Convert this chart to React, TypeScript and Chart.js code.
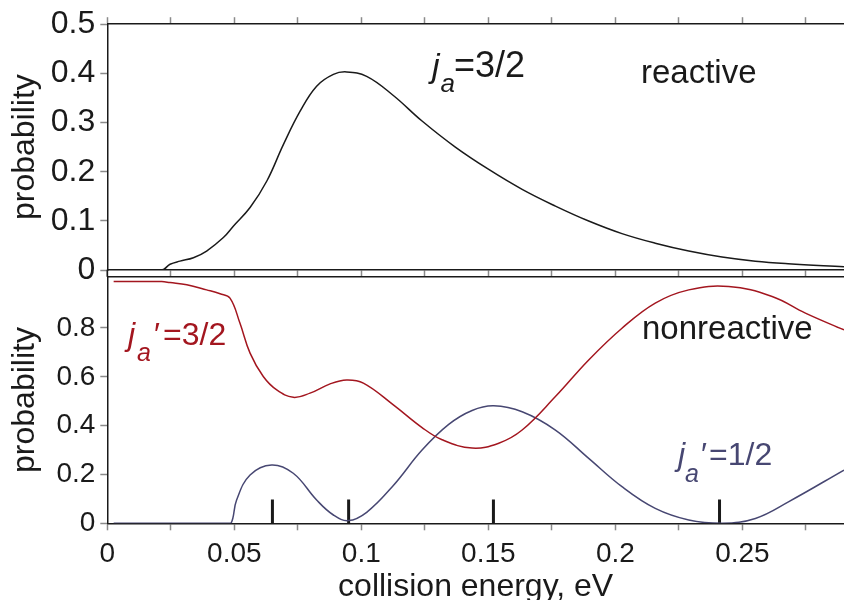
import { useEffect, useRef } from "react";
import { Chart, registerables } from "chart.js";

Chart.register(...registerables);

const FONT = '"Liberation Sans", Arial, Helvetica, sans-serif';
const RED = "#a3161f";
const BLUE = "#474772";
const INK = "#1a1a1a";
const TICK = "#8a8a8a";

// ---- data (collision energy in eV) ----
const reactiveX = [0.0025, 0.0214, 0.0247, 0.0286, 0.0339, 0.0391, 0.0457, 0.0496, 0.0562, 0.0628, 0.0693, 0.0759, 0.0824, 0.089, 0.0942, 0.1021, 0.1126, 0.1239, 0.137, 0.15, 0.1633, 0.1764, 0.1895, 0.2026, 0.2157, 0.2289, 0.242, 0.2551, 0.268, 0.29];
const reactiveY = [0, 0, 0.0116, 0.018, 0.025, 0.0386, 0.066, 0.089, 0.127, 0.181, 0.255, 0.323, 0.374, 0.398, 0.403, 0.394, 0.355, 0.303, 0.25, 0.205, 0.164, 0.13, 0.0996, 0.074, 0.0545, 0.0386, 0.0264, 0.018, 0.0129, 0.0067];

const nonreactive32X = [0.0025, 0.0214, 0.0247, 0.0313, 0.0391, 0.0444, 0.0483, 0.0522, 0.0562, 0.0614, 0.0667, 0.0732, 0.0798, 0.0877, 0.0942, 0.1008, 0.1126, 0.1239, 0.1318, 0.1436, 0.1541, 0.1633, 0.1764, 0.1895, 0.2026, 0.2157, 0.2289, 0.2446, 0.2617, 0.2748, 0.29];
const nonreactive32Y = [0.99, 0.99, 0.986, 0.977, 0.956, 0.94, 0.922, 0.82, 0.697, 0.601, 0.546, 0.516, 0.533, 0.571, 0.587, 0.574, 0.485, 0.392, 0.342, 0.308, 0.328, 0.382, 0.519, 0.669, 0.799, 0.902, 0.956, 0.97, 0.929, 0.861, 0.792];

const nonreactive12X = [0.0025, 0.046, 0.0487, 0.0509, 0.0562, 0.0647, 0.0732, 0.0824, 0.089, 0.0949, 0.1021, 0.1126, 0.1239, 0.1344, 0.1436, 0.1521, 0.1633, 0.1764, 0.1895, 0.2026, 0.2157, 0.2289, 0.242, 0.2551, 0.2683, 0.29];
const nonreactive12Y = [0, 0, 0, 0.0955, 0.198, 0.239, 0.205, 0.0955, 0.034, 0.011, 0.045, 0.155, 0.3, 0.405, 0.462, 0.481, 0.457, 0.382, 0.266, 0.15, 0.061, 0.0135, 0, 0.02, 0.089, 0.218];

const markerX = [0.065, 0.095, 0.152, 0.241];
const markerTop = 0.097;

const xTickValues = [0, 0.025, 0.05, 0.075, 0.1, 0.125, 0.15, 0.175, 0.2, 0.225, 0.25, 0.275];
const xTickLabels = ["0", "", "0.05", "", "0.1", "", "0.15", "", "0.2", "", "0.25", ""];
const topYTicks = [0, 0.1, 0.2, 0.3, 0.4, 0.5];
const topYLabels = ["0", "0.1", "0.2", "0.3", "0.4", "0.5"];
const bottomYTicks = [0, 0.2, 0.4, 0.6, 0.8];
const bottomYLabels = ["0", "0.2", "0.4", "0.6", "0.8"];

const X_MIN = 0;
const X_MAX = 0.29;

const pts = (xs: number[], ys: number[]) => xs.map((x, i) => ({ x, y: ys[i] }));

type Part = { t: string; italic?: boolean; size: number; dy?: number; dx?: number };
type Label = { x: number; y: number; color: string; parts: Part[] };

function drawParts(ctx: CanvasRenderingContext2D, lab: Label) {
  ctx.save();
  ctx.fillStyle = lab.color;
  ctx.textBaseline = "alphabetic";
  ctx.textAlign = "left";
  let cx = lab.x;
  for (const p of lab.parts) {
    ctx.font = `${p.italic ? "italic " : ""}${p.size}px ${FONT}`;
    cx += p.dx ?? 0;
    ctx.fillText(p.t, cx, lab.y + (p.dy ?? 0));
    cx += ctx.measureText(p.t).width;
  }
  ctx.restore();
}

const labelsPlugin = (labels: Label[]) => ({
  id: "richLabels",
  afterDatasetsDraw(chart: any) {
    for (const l of labels) drawParts(chart.ctx, l);
  },
});

function xAxis(position: "top" | "bottom", opts: { labels: boolean; ticks: boolean; height: number; title?: boolean }) {
  return {
    type: "linear" as const,
    axis: "x" as const,
    position,
    min: X_MIN,
    max: X_MAX,
    afterBuildTicks: (s: any) => {
      s.ticks = xTickValues.map((v) => ({ value: v }));
    },
    ticks: {
      display: opts.labels,
      autoSkip: false,
      maxRotation: 0,
      padding: 7,
      color: INK,
      font: { family: FONT, size: 28 },
      callback: (_v: any, i: number) => xTickLabels[i],
    },
    grid: { drawOnChartArea: false, drawTicks: opts.ticks, tickLength: 7, tickColor: TICK, tickWidth: 1.5 },
    border: { display: true, color: INK, width: 1.5 },
    title: {
      display: !!opts.title,
      text: "collision energy, eV",
      color: INK,
      font: { family: FONT, size: 32, lineHeight: 1 },
      padding: { top: 0, bottom: -3 },
    },
    afterFit: (s: any) => {
      s.height = opts.height;
    },
  };
}

function yAxis(max: number, ticks: number[], labels: string[], size: number) {
  return {
    type: "linear" as const,
    position: "left" as const,
    min: 0,
    max,
    afterBuildTicks: (s: any) => {
      s.ticks = ticks.map((v) => ({ value: v }));
    },
    ticks: {
      padding: 5,
      color: INK,
      font: { family: FONT, size },
      callback: (_v: any, i: number) => labels[i],
    },
    grid: { drawOnChartArea: false, tickLength: 7, tickColor: TICK, tickWidth: 1.5 },
    border: { display: true, color: INK, width: 1.5 },
    title: {
      display: true,
      text: "probability",
      color: INK,
      font: { family: FONT, size: 32, lineHeight: 1 },
      padding: { top: 9, bottom: 0 },
    },
    afterFit: (s: any) => {
      s.width = 107.3;
    },
  };
}

const gapLine = {
  id: "gapLine",
  afterDraw(chart: any) {
    const { ctx, chartArea } = chart;
    ctx.save();
    ctx.strokeStyle = INK;
    ctx.lineWidth = 1.5;
    ctx.beginPath();
    ctx.moveTo(chartArea.left, chartArea.top - 7);
    ctx.lineTo(chartArea.left, chartArea.top);
    ctx.stroke();
    ctx.restore();
  },
};

export default function App() {
  const topRef = useRef<HTMLCanvasElement>(null);
  const botRef = useRef<HTMLCanvasElement>(null);

  useEffect(() => {
    const lineDs = (data: any[], color: string, width = 1.5) => ({
      data,
      borderColor: color,
      backgroundColor: color,
      borderWidth: width,
      pointRadius: 0,
      fill: false,
      tension: 0.4,
      xAxisID: "x",
      yAxisID: "y",
    });

    const top = new Chart(topRef.current!, {
      type: "line",
      data: { datasets: [lineDs(pts(reactiveX, reactiveY), INK)] },
      options: {
        animation: false,
        responsive: false,
        devicePixelRatio: 1,
        layout: { padding: { top: 15.7, bottom: 323, left: 0, right: 0 }, autoPadding: false },
        plugins: { legend: { display: false }, tooltip: { enabled: false } },
        scales: {
          x: xAxis("bottom", { labels: false, ticks: true, height: 7 }),
          xTop: xAxis("top", { labels: false, ticks: true, height: 7 }),
          y: yAxis(0.5, topYTicks, topYLabels, 32),
        },
      },
      plugins: [
        labelsPlugin([
          {
            x: 432,
            y: 77,
            color: INK,
            parts: [
              { t: "j", italic: true, size: 34 },
              { t: "a", italic: true, size: 26, dy: 15, dx: 1 },
              { t: "=3/2", size: 36, dx: -1 },
            ],
          },
          { x: 641, y: 83, color: INK, parts: [{ t: "reactive", size: 33 }] },
        ]),
      ],
    });

    const markerSets = markerX.map((mx) => ({
      data: [
        { x: mx, y: 0 },
        { x: mx, y: markerTop },
      ],
      borderColor: INK,
      borderWidth: 3,
      pointRadius: 0,
      fill: false,
      xAxisID: "x",
      yAxisID: "y",
    }));

    const bot = new Chart(botRef.current!, {
      type: "line",
      data: {
        datasets: [
          lineDs(pts(nonreactive32X, nonreactive32Y), RED),
          lineDs(pts(nonreactive12X, nonreactive12Y), BLUE),
          ...markerSets,
        ],
      },
      options: {
        animation: false,
        responsive: false,
        devicePixelRatio: 1,
        layout: { padding: { top: 270, bottom: 0, left: 0, right: 0 }, autoPadding: false },
        plugins: { legend: { display: false }, tooltip: { enabled: false } },
        scales: {
          x: xAxis("bottom", { labels: true, ticks: true, height: 76.7, title: true }),
          xTop: xAxis("top", { labels: false, ticks: false, height: 6.7 }),
          y: yAxis(1.01, bottomYTicks, bottomYLabels, 28),
        },
      },
      plugins: [
        gapLine,
        labelsPlugin([
          {
            x: 128,
            y: 345,
            color: RED,
            parts: [
              { t: "j", italic: true, size: 32 },
              { t: "a", italic: true, size: 25, dy: 16, dx: 2 },
              { t: "\u2032", size: 32, dx: 3 },
              { t: "=3/2", size: 32, dx: 3 },
            ],
          },
          {
            x: 678,
            y: 465,
            color: BLUE,
            parts: [
              { t: "j", italic: true, size: 32 },
              { t: "a", italic: true, size: 25, dy: 17, dx: 0 },
              { t: "\u2032", size: 32, dx: 2 },
              { t: "=1/2", size: 32, dx: 2 },
            ],
          },
          { x: 642, y: 339, color: INK, parts: [{ t: "nonreactive", size: 33 }] },
        ]),
      ],
    });

    return () => {
      top.destroy();
      bot.destroy();
    };
  }, []);

  return (
    <div style={{ position: "fixed", left: 0, top: 0, width: 844, height: 600, background: "#fff", overflow: "hidden" }}>
      <canvas ref={topRef} width={844} height={600} style={{ position: "absolute", left: 0, top: 0 }} />
      <canvas ref={botRef} width={844} height={600} style={{ position: "absolute", left: 0, top: 0 }} />
    </div>
  );
}
